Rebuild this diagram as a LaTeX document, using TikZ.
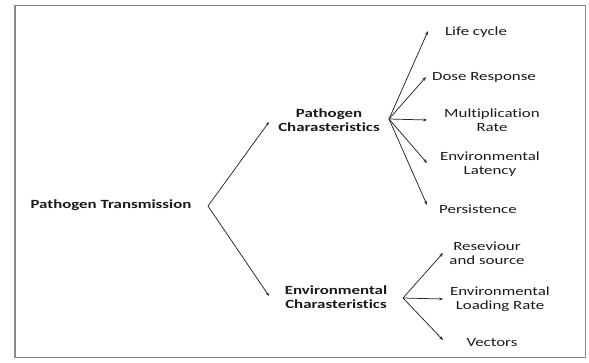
\documentclass[tikz,border=0pt]{standalone}
\usepackage{fontspec}
\setmainfont{Carlito}[FakeStretch=1.35,Ligatures=NoCommon]
\usetikzlibrary{arrows.meta}
\definecolor{txt}{HTML}{1A1A1A}
\definecolor{ln}{HTML}{262626}
\definecolor{frm}{HTML}{8A8A8A}
\begin{document}
\begin{tikzpicture}[x=1pt,y=-1pt,
  lbl/.style={inner sep=0pt,align=center,text=txt,font=\fontsize{12.5}{14}\selectfont},
  blbl/.style={lbl,font=\fontsize{12.5}{14}\selectfont\bfseries},
  conn/.style={draw=ln,line width=0.75pt,-{Stealth[length=4pt,width=3pt]}}]
\useasboundingbox (0,0) rectangle (589,362);
\draw[frm,line width=1pt] (15,5) rectangle (585,357);
\draw[frm,line width=2pt] (15,4.5) -- (15,357.5);
% nodes
\node[blbl] (pt) at (111,205) {Pathogen Transmission};
\node[blbl] (pc) at (329,120) {Pathogen\\Charasteristics};
\node[blbl] (ec) at (336,297) {Environmental\\Charasteristics};
\node[lbl] (life) at (476,32) {Life cycle};
\node[lbl] (dose) at (484,77) {Dose Response};
\node[lbl] (mult) at (492,120) {Multiplication\\Rate};
\node[lbl] (lat) at (490,164) {Environmental\\Latency};
\node[lbl] (pers) at (478,209) {Persistence};
\node[lbl] (res) at (487,253) {Reseviour\\and source};
\node[lbl] (load) at (500,299) {Environmental\\Loading Rate};
\node[lbl] (vec) at (492,343) {Vectors};
% connector points
\coordinate (v) at (208,206);
\coordinate (tpc) at (269,122);
\coordinate (tec) at (269,296);
\coordinate (fp) at (389,119);
\coordinate (fe) at (403,298);
\coordinate (tlife) at (428,31);
\coordinate (tdose) at (426,77);
\coordinate (tmult) at (427,120);
\coordinate (tlat) at (427,163);
\coordinate (tpers) at (427,205);
\coordinate (tres) at (443,253);
\coordinate (tload) at (443,299);
\coordinate (tvec) at (443,340);
% connectors
\draw[conn] (v) -- (tpc);
\draw[conn] (v) -- (tec);
\draw[conn] (fp) -- (tlife);
\draw[conn] (fp) -- (tdose);
\draw[conn] (fp) -- (tmult);
\draw[conn] (fp) -- (tlat);
\draw[conn] (fp) -- (tpers);
\draw[conn] (fe) -- (tres);
\draw[conn] (fe) -- (tload);
\draw[conn] (fe) -- (tvec);
\end{tikzpicture}
\end{document}
